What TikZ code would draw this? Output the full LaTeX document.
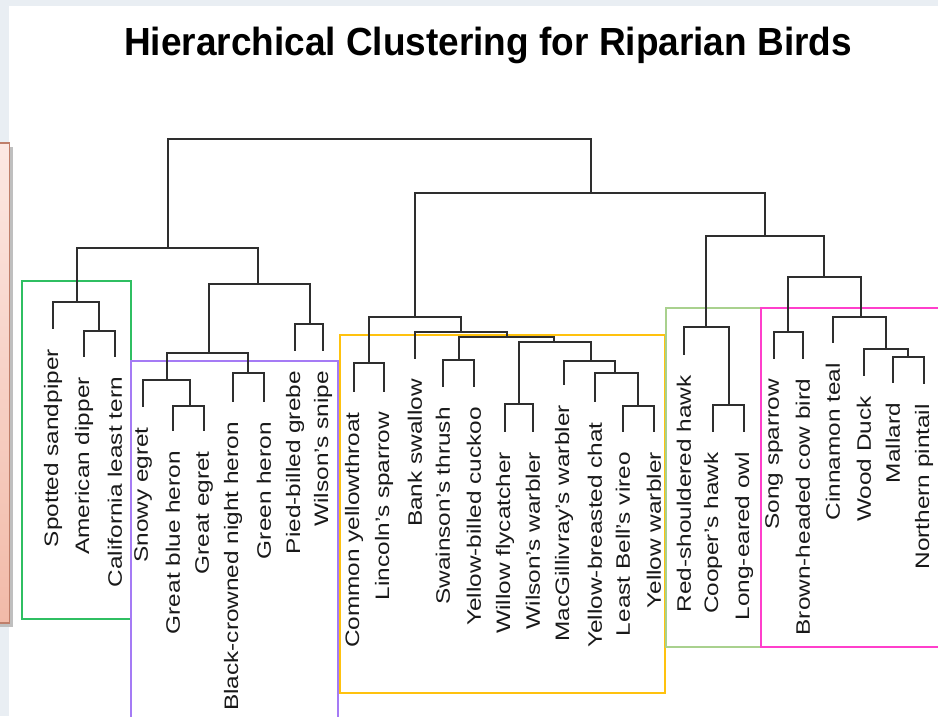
\documentclass[tikz,border=0pt]{standalone}
\usepackage{fontspec}
\setmainfont{Liberation Sans}
\usepackage{xcolor}
\usetikzlibrary{positioning, calc}

\definecolor{panel}{HTML}{E9EEF3}
\definecolor{treeline}{HTML}{2E2E2E}
\definecolor{boxgreen}{HTML}{2FBF62}
\definecolor{boxpurple}{HTML}{A57BF5}
\definecolor{boxyellow}{HTML}{FFC20E}
\definecolor{boxlime}{HTML}{A9D18E}
\definecolor{boxpink}{HTML}{FF3FCB}
\definecolor{salmontop}{HTML}{FCE8E3}
\definecolor{salmonbot}{HTML}{F2BAA8}
\definecolor{salmonedge}{HTML}{BF7F6B}

\begin{document}
\begin{tikzpicture}[x=1pt, y=-1pt,
    link/.style={draw=treeline, line width=2.2pt},
    bird/.style={rotate=90, anchor=east, inner sep=0pt, text=black!90,
      font=\fontsize{19.5}{20}\selectfont},
    group/.style={line width=1.4pt}]
  \useasboundingbox (0,0) rectangle (938,716);
  \fill[panel] (0,0) rectangle (938,716);
  \fill[white] (9,6) rectangle (938,716);
  % side panel cut off at the left
  \fill[black!25] (-5,147) rectangle (12.5,627);
  \shade[top color=salmontop, bottom color=salmonbot, draw=salmonedge, line width=1.2pt]
    (-5,143) rectangle (9.5,623);

  \node[font=\bfseries\fontsize{37}{40}\selectfont] (title) at (488,45)
    {\scalebox{1}[1.06]{Hierarchical Clustering for Riparian Birds}};

  % cluster boxes
  \draw[group, boxgreen] (22,281) rectangle (131,619);
  \draw[group, boxpurple] (131,361) rectangle (338,720);
  \draw[group, boxyellow] (340,335) rectangle (665,693);
  \draw[group, boxlime] (666,308) rectangle (761,647);
  \draw[group, boxpink] (761,308) rectangle (945,647);

  % leaves
  \foreach \n/\x/\y/\t in {
      sp/53/329/Spotted sandpiper, ad/84/357/American dipper,
      ct/115/357/California least tern, se/143/407/Snowy egret,
      gb/173/431/Great blue heron, ge/204/431/Great egret,
      bc/233/402/Black-crowned night heron, gh/264/402/Green heron,
      pg/295/351/Pied-billed grebe, ws/323/351/Wilson's snipe,
      cy/354/392/Common yellowthroat, ls/384/392/Lincoln's sparrow,
      bs/415/359/Bank swallow, st/443/387/Swainson's thrush,
      yc/474/387/Yellow-billed cuckoo, wf/505/432/Willow flycatcher,
      ww/533/432/Wilson's warbler, mw/564/385/MacGillivray's warbler,
      yb/595/402/Yellow-breasted chat, lv/623/432/Least Bell's vireo,
      yw/654/432/Yellow warbler, rh/684/355/Red-shouldered hawk,
      ch/713/432/Cooper's hawk, lo/744/432/Long-eared owl,
      ss/774/359/Song sparrow, bh/803/359/Brown-headed cow bird,
      tl/833/343/Cinnamon teal, wd/864/376/Wood Duck,
      ml/893/383/Mallard, np/924/384/Northern pintail}
  {
    \coordinate (\n) at (\x,\y);
    \node[bird] (t-\n) at ([yshift=-20pt]\n) {\scalebox{1.25}[1]{\t}};
  }

  % merges, from the bottom up
  \foreach \m/\x/\y/\a/\b in {
      a1/99/331/ad/ct, a2/77/302/sp/a1,
      b1/190/406/gb/ge, b2/167/380/se/b1, b3/248/373/bc/gh,
      b4/209/353/b2/b3, b5/310/324/pg/ws, b6/258/284/b4/b5,
      left/168/248/a2/b6,
      c1/369/363/cy/ls, c2/459/360/st/yc, c3/519/404/wf/ww,
      c4/638/406/lv/yw, c5/615/373/yb/c4, c6/591/361/mw/c5,
      c7/554/342/c3/c6, c8/507/337/c2/c7, c9/461/332/bs/c8,
      c10/415/317/c1/c9,
      d1/729/405/ch/lo, d2/706/327/rh/d1,
      e1/788/332/ss/bh, e2/908/357/ml/np, e3/886/349/wd/e2,
      e4/861/317/tl/e3, e5/824/277/e1/e4, d3/765/236/d2/e5,
      right/591/193/c10/d3, root/380/139/left/right}
  {
    \coordinate (\m) at (\x,\y);
    \draw[link] (\m) -| (\a) (\m) -| (\b);
  }
\end{tikzpicture}
\end{document}
